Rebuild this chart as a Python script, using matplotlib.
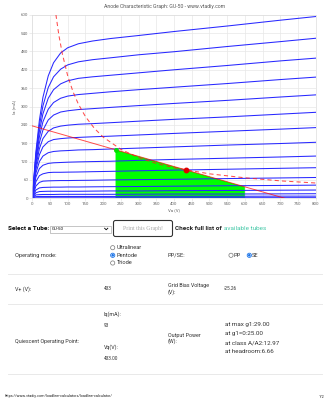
import matplotlib.pyplot as plt
from matplotlib.patches import Circle, FancyBboxPatch, Rectangle

plt.rcParams['font.family'] = ['Roboto', 'DejaVu Sans']

# ---- chart data ----
anode_v = [0, 10, 20, 30, 45, 60, 80, 100, 130, 170, 220, 300, 400, 550, 700, 800]
ia_curves = [
    [0, 150, 255, 330, 400, 443, 475, 492, 505, 514, 522, 532, 545, 563, 582, 594],
    [0, 141, 237, 302, 362, 397, 422, 436, 446, 453, 459, 469, 479, 496, 512, 523],
    [0, 132, 219, 276, 327, 355, 374, 384, 392, 397, 402, 410, 420, 434, 449, 458],
    [0, 123, 201, 250, 291, 313, 327, 334, 339, 343, 348, 355, 363, 375, 388, 396],
    [0, 114, 182, 223, 256, 272, 282, 286, 290, 293, 297, 303, 310, 320, 331, 338],
    [0, 104, 162, 195, 219, 230, 236, 239, 242, 244, 247, 252, 258, 266, 275, 281],
    [0, 94, 142, 168, 185, 192, 195, 197, 199, 201, 203, 207, 212, 219, 226, 231],
    [0, 82, 120, 138, 149, 153, 155, 156, 158, 159, 161, 164, 168, 174, 179, 183],
    [0, 69, 97, 108, 114, 116, 117, 118, 119, 120, 121, 124, 127, 131, 135, 138],
    [0, 54, 74, 80, 84, 85, 85, 85.5, 86, 87, 88, 90, 92, 95, 98, 100],
    [0, 40, 52, 56, 57, 57.5, 58, 58, 58.5, 59, 60, 61, 62, 64.5, 66.5, 68],
    [0, 27, 34, 35.5, 36, 36.5, 36.5, 37, 37, 37.5, 38, 38.5, 39.5, 41, 42, 43],
    [0, 18, 22, 22.5, 23, 23, 23, 23, 23, 23.5, 24, 24, 25, 25.5, 26.5, 27],
    [0, 11, 12, 12.5, 12.5, 12.5, 13, 13, 13, 13, 13, 13.5, 14, 14, 14.5, 15],
    [0, 5.5, 6, 6, 6, 6, 6, 6, 6, 6, 6, 6.5, 6.5, 6.5, 7, 7],
    [0, 1.5, 1.7, 1.7, 1.7, 1.7, 1.7, 1.7, 1.7, 1.7, 1.8, 1.8, 1.8, 1.9, 2, 2],
    [0, 0, 0, 0, 0, 0, 0, 0, 0, 0, 0, 0, 0, 0, 0, 0],
]
pdiss_v = [66.7, 75, 85, 100, 115, 130, 150, 175, 200, 250, 300, 350, 400, 500, 600, 700, 800]
pdiss_ia = [600, 533, 471, 400, 348, 308, 267, 229, 200, 160, 133, 114, 100, 80, 67, 57, 50]
loadline_v = [0, 713]
loadline_ia = [236.6, 0]
swing_v = [235, 235, 600, 600]
swing_ia = [0, 158.7, 37.6, 0]
q_v, q_ia = 433, 93
x_ticks = list(range(0, 801, 50))
y_ticks = list(range(0, 601, 60))

TXT = '#333333'

fig = plt.figure(figsize=(3.31, 4.0), dpi=100)

# page layer in pixel coordinates
page = fig.add_axes([0, 0, 1, 1], zorder=0)
page.set_xlim(0, 331)
page.set_ylim(400, 0)
page.axis('off')


def txt(x, y, s, size=3.8, color=TXT, **kw):
    kw.setdefault('va', 'center')
    page.text(x, y, s, fontsize=size, color=color, **kw)


# ---- chart ----
ax = fig.add_axes([32.3 / 331, 1 - 198.3 / 400, 283.4 / 331, 183.6 / 400], zorder=1)
ax.fill(swing_v, swing_ia, color='#00ff00', lw=0, zorder=1)
for ia in ia_curves:
    ax.plot(anode_v, ia, color='#2828ff', lw=0.75, zorder=2)
ax.plot(loadline_v, loadline_ia, color='red', lw=0.7, alpha=0.7, zorder=3)
ax.plot(pdiss_v, pdiss_ia, color='#ff2020', lw=0.75, ls=(0, (4, 3)), alpha=0.8, zorder=3)
ax.plot(swing_v[1], swing_ia[1], 'o', color='#00e000', ms=2.5, zorder=4)
ax.plot(q_v, q_ia, 'o', color='#e00000', ms=3.2, zorder=5)

ax.set_xlim(0, 800)
ax.set_ylim(0, 600)
ax.set_xticks(x_ticks)
ax.set_yticks(y_ticks)
ax.tick_params(labelsize=3.2, labelcolor='#666666', color='#dddddd', length=2, width=0.4, pad=1)
ax.grid(color='#e8e8e8', lw=0.5)
ax.set_axisbelow(True)
for sp in ax.spines.values():
    sp.set_color('#dddddd')
    sp.set_linewidth(0.5)
ax.set_xlabel('Va (V)', fontsize=3.2, color='#666666', labelpad=1.5)
ax.set_ylabel('Ia (mA)', fontsize=3.2, color='#666666', labelpad=3)

txt(165, 6.5, 'Anode Characteristic Graph: GU-50 - www.vtadiy.com', size=3.7,
    color='#555555', ha='center')

# ---- form ----
txt(8, 228.5, 'Select a Tube:', size=4.6, color='black', fontweight='bold')
page.add_patch(Rectangle((50, 225.5), 61, 7, fc='white', ec='#999999', lw=0.4))
txt(52, 229, 'GU-50', size=3.2, color='black')
page.plot([104.6, 106.2, 107.8], [228.2, 229.8, 228.2], color='black', lw=0.6)

page.add_patch(FancyBboxPatch((113.5, 220.5), 59, 16, boxstyle='round,pad=0,rounding_size=2',
                              fc='white', ec='#333333', lw=0.8))
txt(143, 228.5, 'Print this Graph!', size=4.2, color='#aaaaaa', ha='center',
    family='Liberation Serif')
txt(175, 228.5, 'Check full list of', size=4.6, color='#222222', fontweight='bold')
txt(224, 228.5, 'available tubes', size=4.6, color='#45c8a8')

txt(15, 255.3, 'Operating mode:', size=4.1)
for y, lab, on in [(247.7, 'Ultralinear', False), (255.3, 'Pentode', True), (263, 'Triode', False)]:
    if on:
        page.add_patch(Circle((112.7, y), 2.1, fc='white', ec='#1a73e8', lw=0.6))
        page.add_patch(Circle((112.7, y), 1.3, fc='#1a73e8', ec='none'))
    else:
        page.add_patch(Circle((112.7, y), 2.1, fc='white', ec='#777777', lw=0.5))
    txt(116.5, y, lab, size=4.1)

txt(168, 255.3, 'PP/SE:', size=4.1)
page.add_patch(Circle((231, 255.3), 2.1, fc='white', ec='#777777', lw=0.5))
txt(233.5, 255.3, 'PP', size=4.1)
page.add_patch(Circle((249.3, 255.3), 2.1, fc='white', ec='#1a73e8', lw=0.6))
page.add_patch(Circle((249.3, 255.3), 1.3, fc='#1a73e8', ec='none'))
txt(251.8, 255.3, 'SE', size=4.1)

for y in (274.3, 304.3, 374.3):
    page.plot([8, 322], [y, y], color='#e5e5e5', lw=0.6)

txt(15, 289, 'V+ (V):', size=3.9)
txt(104, 289, '433', size=3.4)
txt(168, 285.7, 'Grid Bias Voltage', size=3.9)
txt(168, 291.7, '(V):', size=3.9)
txt(224, 289, '-25.26', size=3.4)

txt(104, 314, 'Iq(mA):', size=3.9)
txt(104, 325.7, '93', size=3.4)
txt(15, 341, 'Quiescent Operating Point:', size=3.9)
txt(104, 346.7, 'Vq(V):', size=3.9)
txt(104, 359, '433.00', size=3.4)
txt(168, 335.7, 'Output Power', size=3.9)
txt(168, 341.5, '(W):', size=3.9)
txt(225, 324.3, 'at max g1:29.00', size=4.5)
txt(225, 333.3, 'at g1=0:25.00', size=4.5)
txt(225, 342.7, 'at class A/A2:12.97', size=4.5)
txt(225, 351.7, 'at headroom:6.66', size=4.5)

txt(5, 396.5, 'https://www.vtadiy.com/loadline-calculators/loadline-calculator/', size=2.7,
    color='#222222')
txt(324, 396.5, '1/2', size=2.7, color='#222222', ha='right')

fig.savefig('out.png', dpi=100)
